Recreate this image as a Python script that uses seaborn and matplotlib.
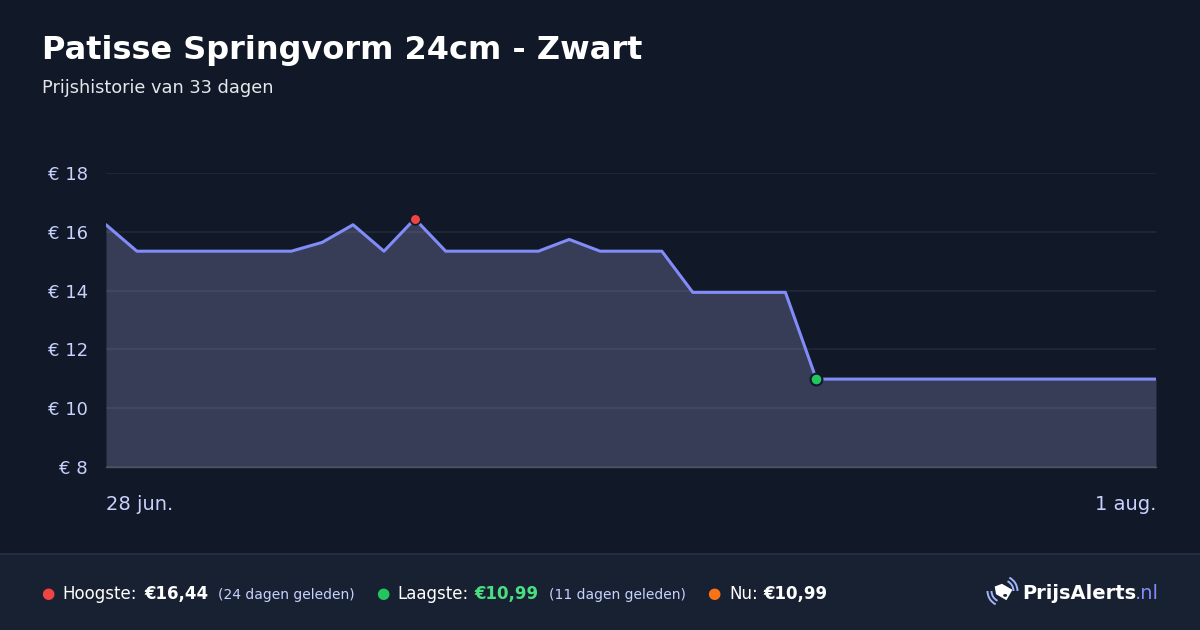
import numpy as np
import pandas as pd
import seaborn as sns
import matplotlib.pyplot as plt
from matplotlib.patches import Rectangle, Polygon, Arc, Circle

# prijsdata (dagelijks, 28 jun. t/m 1 aug.)
dagen = pd.date_range("2025-06-28", "2025-08-01", freq="D")
prijzen = [16.24, 15.34, 15.34, 15.34, 15.34, 15.34, 15.34, 15.64, 16.24, 15.34,
           16.44, 15.34, 15.34, 15.34, 15.34, 15.74, 15.34, 15.34, 15.34, 13.94,
           13.94, 13.94, 13.94, 10.99, 10.99, 10.99, 10.99, 10.99, 10.99, 10.99,
           10.99, 10.99, 10.99, 10.99, 10.99]
y_ticks = [8, 10, 12, 14, 16, 18]
y_labels = ["€ 8", "€ 10", "€ 12", "€ 14", "€ 16", "€ 18"]
x_labels = ["28 jun.", "1 aug."]

df = pd.DataFrame({"datum": dagen, "prijs": prijzen})
i_max = int(np.argmax(prijzen))
i_min = int(np.argmin(prijzen))

BG = "#111827"
FOOT = "#182132"
LINE = "#818cf8"
TICK = "#c7d2fe"

sns.set_style("dark")
plt.rcParams["font.family"] = ["DejaVu Sans"]

fig = plt.figure(figsize=(12, 6.3), dpi=100, facecolor=BG)

def px(x, y):
    return x / 1200, 1 - y / 630

# grafiek
ax = fig.add_axes([106 / 1200, 163 / 630, 1050 / 1200, 294 / 630])
ax.set_facecolor(BG)
ax.fill_between(df["datum"], 8, df["prijs"], color="#3a3f5a", alpha=0.95, lw=0, zorder=1)
sns.lineplot(data=df, x="datum", y="prijs", ax=ax, color=LINE, lw=2.2, zorder=3)
ax.scatter(df["datum"][i_max], prijzen[i_max], s=58, color="#ef4444",
           edgecolor=BG, linewidth=1.2, zorder=5)
ax.scatter(df["datum"][i_min], prijzen[i_min], s=72, color="#22c55e",
           edgecolor=BG, linewidth=1.5, zorder=5)

ax.set_xlim(dagen[0], dagen[-1])
ax.set_ylim(8, 18)
ax.set_yticks(y_ticks, y_labels)
ax.set_xticks([dagen[0], dagen[-1]], x_labels)
ax.grid(axis="y", color="white", alpha=0.07, lw=1.2, zorder=2)
ax.grid(axis="x", visible=False)
ax.set_axisbelow(False)
for s in ["top", "right", "left"]:
    ax.spines[s].set_visible(False)
ax.spines["bottom"].set_color("#4b5563")
ax.spines["bottom"].set_linewidth(1)
ax.tick_params(axis="y", length=0, pad=13, labelsize=13, labelcolor=TICK)
ax.tick_params(axis="x", length=0, pad=20, labelsize=14, labelcolor=TICK)
xl = ax.get_xticklabels()
xl[0].set_ha("left")
xl[1].set_ha("right")
ax.set_xlabel("")
ax.set_ylabel("")

# titels
fig.text(*px(42, 59), "Patisse Springvorm 24cm - Zwart", fontsize=23,
         fontweight="bold", color="white", va="baseline")
fig.text(*px(42, 93), "Prijshistorie van 33 dagen", fontsize=12.8,
         color="#e5e7eb", va="baseline")

# voetbalk
fig.patches.append(Rectangle((0, 0), 1, 76 / 630, transform=fig.transFigure,
                             facecolor=FOOT, edgecolor="none", zorder=0))
fig.add_artist(plt.Line2D([0, 1], [76 / 630, 76 / 630], color="#26304a", lw=1.2))

def dot(x, kleur):
    fig.text(*px(x, 593), "●", fontsize=11, color=kleur, ha="center", va="center")

def tekst(x, s, **kw):
    fig.text(*px(x, 599), s, va="baseline", **kw)

dot(48, "#ef4444")
tekst(62, "Hoogste:", fontsize=12, color="white")
tekst(144, "€16,44", fontsize=12, color="white", fontweight="bold")
tekst(218, "(24 dagen geleden)", fontsize=10, color=TICK)
dot(383, "#22c55e")
tekst(397, "Laagste:", fontsize=12, color="white")
tekst(474, "€10,99", fontsize=12, color="#4ade80", fontweight="bold")
tekst(549, "(11 dagen geleden)", fontsize=10, color=TICK)
dot(714, "#f97316")
tekst(729, "Nu:", fontsize=12, color="white")
tekst(763, "€10,99", fontsize=12, color="white", fontweight="bold")

# logo
tekst(1022, "PrijsAlerts", fontsize=14, color="white", fontweight="bold")
tekst(1135, ".nl", fontsize=14, color=LINE)
cx, cy = 1002.5, 591
hoek = np.deg2rad(-30)
vorm = np.array([(-9, 0), (-4, 6), (8, 6), (8, -6), (-4, -6)], dtype=float)
rot = np.array([[np.cos(hoek), -np.sin(hoek)], [np.sin(hoek), np.cos(hoek)]])
vorm = vorm @ rot.T
tag = [px(cx + a, cy - b) for a, b in vorm]
fig.add_artist(Polygon(tag, closed=True, transform=fig.transFigure,
                       facecolor="white", edgecolor="none"))
gat = rot @ np.array([4.5, -2.5])
fig.add_artist(Circle(px(cx + gat[0], cy - gat[1]), 1.3 / 1200,
                      transform=fig.transFigure, color=FOOT))
for r in (11, 15):
    for t1, t2 in ((0, 75), (180, 255)):
        fig.add_artist(Arc(px(cx, cy), 2 * r / 1200, 2 * r / 630, theta1=t1, theta2=t2,
                           transform=fig.transFigure, color="#a5b4fc", lw=1.4))

fig.savefig("out.png", dpi=100, facecolor=BG)
